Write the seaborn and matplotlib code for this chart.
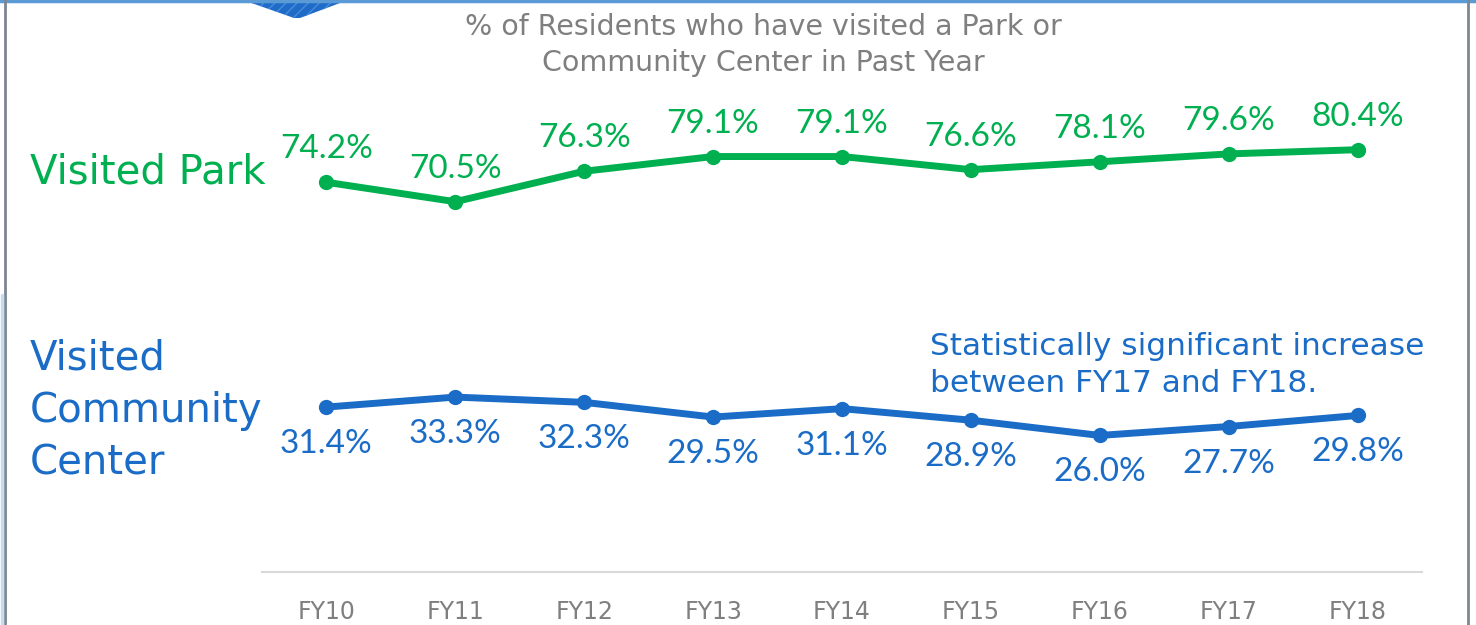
import matplotlib
matplotlib.use("Agg")
import matplotlib.pyplot as plt
from matplotlib.patches import Polygon
import pandas as pd
import seaborn as sns

# ------------------------------------------------------------------ #
# Data                                                                 #
# ------------------------------------------------------------------ #
YEARS = ["FY10", "FY11", "FY12", "FY13", "FY14", "FY15", "FY16", "FY17", "FY18"]
PARK = [74.2, 70.5, 76.3, 79.1, 79.1, 76.6, 78.1, 79.6, 80.4]
COMMUNITY = [31.4, 33.3, 32.3, 29.5, 31.1, 28.9, 26.0, 27.7, 29.8]

GREEN = "#00B050"
BLUE = "#1A6CC6"
GRAY = "#7F7F7F"

TITLE = "% of Residents who have visited a Park or\nCommunity Center in Past Year"
NOTE = "Statistically significant increase\nbetween FY17 and FY18."

sns.set_theme(style="white")
plt.rcParams["font.family"] = ["DejaVu Sans"]

df = pd.DataFrame({
    "year": YEARS * 2,
    "pct": PARK + COMMUNITY,
    "series": ["park"] * len(YEARS) + ["community"] * len(YEARS),
})

fig = plt.figure(figsize=(14.76, 6.25), dpi=100)
ax = fig.add_axes([262 / 1476, 1 - 572 / 625, (1422 - 262) / 1476, (572 - 52) / 625])

sns.lineplot(
    data=df, x="year", y="pct", hue="series",
    palette={"park": GREEN, "community": BLUE},
    marker="o", markersize=11, markeredgewidth=0,
    linewidth=5, legend=False, ax=ax, sort=False,
)

ax.set_xlim(-0.5, len(YEARS) - 0.5)
ax.set_ylim(0, 99)
ax.set_xlabel("")
ax.set_ylabel("")
ax.set_yticks([])
for side in ["top", "right", "left"]:
    ax.spines[side].set_visible(False)
ax.spines["bottom"].set_color("#D9D9D9")
ax.spines["bottom"].set_linewidth(1.5)
ax.tick_params(axis="x", length=0, pad=20, labelsize=17, labelcolor=GRAY)

# value labels
for i, v in enumerate(PARK):
    ax.annotate(f"{v:.1f}%", (i, v), xytext=(0, 33), textcoords="offset pixels",
                ha="center", va="center", color=GREEN, fontsize=24, family="Lato")
for i, v in enumerate(COMMUNITY):
    ax.annotate(f"{v:.1f}%", (i, v), xytext=(0, -37), textcoords="offset pixels",
                ha="center", va="center", color=BLUE, fontsize=24, family="Lato")

# series names on the left
fig.text(30 / 1476, 1 - 173 / 625, "Visited Park", color=GREEN, fontsize=29,
         ha="left", va="center")
fig.text(30 / 1476, 1 - 411 / 625, "Visited\nCommunity\nCenter", color=BLUE,
         fontsize=29, ha="left", va="center", linespacing=1.4)

# title and note
fig.text(763 / 1476, 1 - 45 / 625, TITLE, color=GRAY, fontsize=20.5,
         ha="center", va="center", linespacing=1.32)
fig.text(930 / 1476, 1 - 365 / 625, NOTE, color=BLUE, fontsize=22.5,
         ha="left", va="center", linespacing=1.38)

# slide frame decoration
fig.add_artist(Polygon(
    [(243 / 1476, 1.0), (348 / 1476, 1.0), (300 / 1476, 1 - 18 / 625),
     (294 / 1476, 1 - 18 / 625)],
    closed=True, transform=fig.transFigure, facecolor="#1F6BC8",
    edgecolor="#4A8BDA", hatch="///", linewidth=0,
))
fig.add_artist(plt.Line2D([0, 1], [0.998, 0.998], color="#5B9BD5", linewidth=2.5,
                          transform=fig.transFigure))
fig.add_artist(plt.Line2D([5 / 1476, 5 / 1476], [0, 1], color="#7F8690", linewidth=2,
                          transform=fig.transFigure))
fig.add_artist(plt.Line2D([1468 / 1476, 1468 / 1476], [0, 1], color="#7F8690",
                          linewidth=2, transform=fig.transFigure))
fig.add_artist(plt.Line2D([1.5 / 1476, 1.5 / 1476], [0, 1 - 295 / 625],
                          color="#C5DDF2", linewidth=2.5, transform=fig.transFigure))

fig.savefig("out.png", dpi=100)
